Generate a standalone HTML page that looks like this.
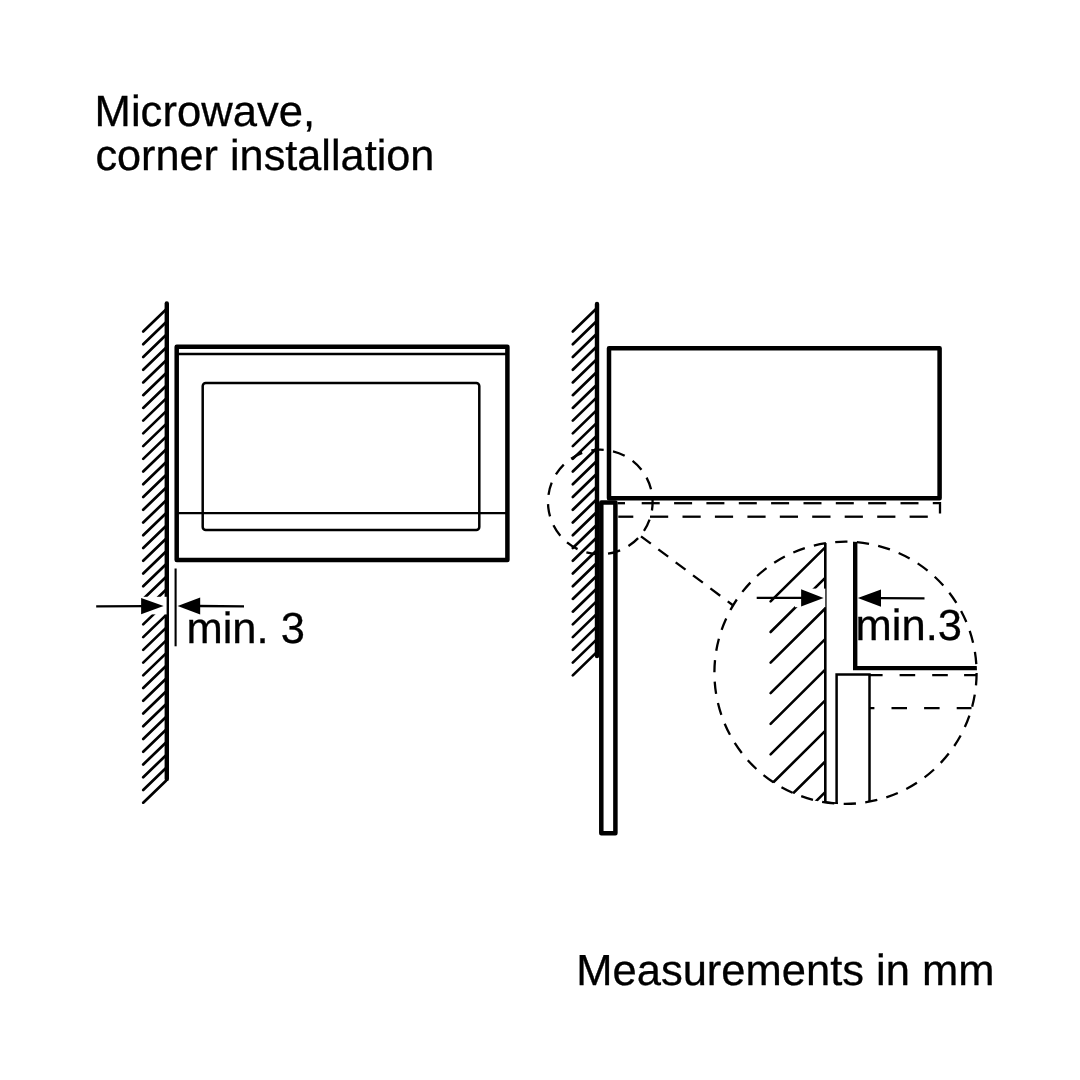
<!DOCTYPE html>
<html><head><meta charset="utf-8"><title>Microwave, corner installation</title>
<style>
html,body{margin:0;padding:0;background:#fff;}
body{width:1080px;height:1080px;overflow:hidden;}
svg{display:block;filter:grayscale(1);}
svg text{font-family:"Liberation Sans",sans-serif;fill:#000;stroke:#000;stroke-width:0.3px;text-rendering:geometricPrecision;}
</style></head>
<body>
<svg width="1080" height="1080" viewBox="0 0 1080 1080">
<rect width="1080" height="1080" fill="#fff"/>
<!-- left wall -->
<g stroke="#000" stroke-width="2.7" stroke-linecap="round"><line x1="143.20" y1="331.50" x2="166.00" y2="309.50"/><line x1="143.20" y1="344.24" x2="166.00" y2="322.24"/><line x1="143.20" y1="356.97" x2="166.00" y2="334.97"/><line x1="143.20" y1="369.70" x2="166.00" y2="347.70"/><line x1="143.20" y1="382.44" x2="166.00" y2="360.44"/><line x1="143.20" y1="395.18" x2="166.00" y2="373.18"/><line x1="143.20" y1="407.91" x2="166.00" y2="385.91"/><line x1="143.20" y1="420.64" x2="166.00" y2="398.64"/><line x1="143.20" y1="433.38" x2="166.00" y2="411.38"/><line x1="143.20" y1="446.12" x2="166.00" y2="424.12"/><line x1="143.20" y1="458.85" x2="166.00" y2="436.85"/><line x1="143.20" y1="471.58" x2="166.00" y2="449.58"/><line x1="143.20" y1="484.32" x2="166.00" y2="462.32"/><line x1="143.20" y1="497.06" x2="166.00" y2="475.06"/><line x1="143.20" y1="509.79" x2="166.00" y2="487.79"/><line x1="143.20" y1="522.52" x2="166.00" y2="500.52"/><line x1="143.20" y1="535.26" x2="166.00" y2="513.26"/><line x1="143.20" y1="548.00" x2="166.00" y2="526.00"/><line x1="143.20" y1="560.73" x2="166.00" y2="538.73"/><line x1="143.20" y1="573.46" x2="166.00" y2="551.46"/><line x1="143.20" y1="586.20" x2="166.00" y2="564.20"/><line x1="143.20" y1="598.93" x2="166.00" y2="576.93"/><line x1="143.20" y1="611.67" x2="166.00" y2="589.67"/><line x1="143.20" y1="624.40" x2="166.00" y2="602.40"/><line x1="143.20" y1="637.14" x2="166.00" y2="615.14"/><line x1="143.20" y1="649.88" x2="166.00" y2="627.88"/><line x1="143.20" y1="662.61" x2="166.00" y2="640.61"/><line x1="143.20" y1="675.35" x2="166.00" y2="653.35"/><line x1="143.20" y1="688.08" x2="166.00" y2="666.08"/><line x1="143.20" y1="700.82" x2="166.00" y2="678.82"/><line x1="143.20" y1="713.55" x2="166.00" y2="691.55"/><line x1="143.20" y1="726.28" x2="166.00" y2="704.28"/><line x1="143.20" y1="739.02" x2="166.00" y2="717.02"/><line x1="143.20" y1="751.75" x2="166.00" y2="729.75"/><line x1="143.20" y1="764.49" x2="166.00" y2="742.49"/><line x1="143.20" y1="777.22" x2="166.00" y2="755.22"/><line x1="143.20" y1="789.96" x2="166.00" y2="767.96"/><line x1="143.20" y1="802.69" x2="166.00" y2="780.69"/></g>
<line x1="166.8" y1="303.5" x2="166.8" y2="779" stroke="#000" stroke-width="4.4" stroke-linecap="round"/>
<!-- microwave front -->
<rect x="176.7" y="346.7" width="330.7" height="213.3" fill="none" stroke="#000" stroke-width="4.5" stroke-linejoin="round"/>
<line x1="177" y1="354" x2="507" y2="354" stroke="#000" stroke-width="2.3"/>
<line x1="177" y1="513.2" x2="507" y2="513.2" stroke="#000" stroke-width="2.3"/>
<rect x="202.7" y="383" width="276.6" height="147" rx="3" fill="none" stroke="#000" stroke-width="2.5"/>
<!-- dimension -->
<line x1="175.6" y1="568.5" x2="175.6" y2="646.3" stroke="#000" stroke-width="2.1"/>
<rect x="140.6" y="596.8" width="26" height="17.6" fill="#fff"/>
<line x1="96.2" y1="606.4" x2="145" y2="606.1" stroke="#000" stroke-width="2.3"/>
<polygon points="163.6,606.1 141.1,597.9 141.1,614.3" fill="#000"/>
<line x1="198" y1="606" x2="244" y2="606.3" stroke="#000" stroke-width="2.3"/>
<polygon points="177.6,605.9 200.2,597.4 200.2,614.4" fill="#000"/>
<text x="186.4" y="643" font-size="43.5">min. 3</text>
<!-- right wall -->
<g stroke="#000" stroke-width="2.7" stroke-linecap="round"><line x1="572.80" y1="331.50" x2="596.00" y2="309.00"/><line x1="572.80" y1="344.24" x2="596.00" y2="321.74"/><line x1="572.80" y1="356.97" x2="596.00" y2="334.47"/><line x1="572.80" y1="369.70" x2="596.00" y2="347.20"/><line x1="572.80" y1="382.44" x2="596.00" y2="359.94"/><line x1="572.80" y1="395.18" x2="596.00" y2="372.68"/><line x1="572.80" y1="407.91" x2="596.00" y2="385.41"/><line x1="572.80" y1="420.64" x2="596.00" y2="398.14"/><line x1="572.80" y1="433.38" x2="596.00" y2="410.88"/><line x1="572.80" y1="446.12" x2="596.00" y2="423.62"/><line x1="572.80" y1="458.85" x2="596.00" y2="436.35"/><line x1="572.80" y1="471.58" x2="596.00" y2="449.08"/><line x1="572.80" y1="484.32" x2="596.00" y2="461.82"/><line x1="572.80" y1="497.06" x2="596.00" y2="474.56"/><line x1="572.80" y1="509.79" x2="596.00" y2="487.29"/><line x1="572.80" y1="522.52" x2="596.00" y2="500.02"/><line x1="572.80" y1="535.26" x2="596.00" y2="512.76"/><line x1="572.80" y1="548.00" x2="596.00" y2="525.50"/><line x1="572.80" y1="560.73" x2="596.00" y2="538.23"/><line x1="572.80" y1="573.46" x2="596.00" y2="550.96"/><line x1="572.80" y1="586.20" x2="596.00" y2="563.70"/><line x1="572.80" y1="598.93" x2="596.00" y2="576.43"/><line x1="572.80" y1="611.67" x2="596.00" y2="589.17"/><line x1="572.80" y1="624.40" x2="596.00" y2="601.90"/><line x1="572.80" y1="637.14" x2="596.00" y2="614.64"/><line x1="572.80" y1="649.88" x2="596.00" y2="627.38"/><line x1="572.80" y1="662.61" x2="596.00" y2="640.11"/><line x1="572.80" y1="675.35" x2="596.00" y2="652.85"/></g>
<line x1="597" y1="304" x2="597" y2="656" stroke="#000" stroke-width="4.4" stroke-linecap="round"/>
<!-- appliance side -->
<rect x="609" y="348.3" width="330.6" height="149.9" fill="none" stroke="#000" stroke-width="4.5" stroke-linejoin="round"/>
<!-- door panel -->
<rect x="601.3" y="502.6" width="14.1" height="330.7" fill="none" stroke="#000" stroke-width="4.5" stroke-linejoin="round"/>
<line x1="641.7" y1="503.2" x2="659.7" y2="503.2" stroke="#000" stroke-width="2.3"/><line x1="674.1" y1="503.2" x2="692.1" y2="503.2" stroke="#000" stroke-width="2.3"/><line x1="706.4" y1="503.2" x2="724.4" y2="503.2" stroke="#000" stroke-width="2.3"/><line x1="738.8" y1="503.2" x2="756.8" y2="503.2" stroke="#000" stroke-width="2.3"/><line x1="771.1" y1="503.2" x2="789.1" y2="503.2" stroke="#000" stroke-width="2.3"/><line x1="803.5" y1="503.2" x2="821.5" y2="503.2" stroke="#000" stroke-width="2.3"/><line x1="835.8" y1="503.2" x2="853.8" y2="503.2" stroke="#000" stroke-width="2.3"/><line x1="868.2" y1="503.2" x2="886.2" y2="503.2" stroke="#000" stroke-width="2.3"/><line x1="900.5" y1="503.2" x2="918.5" y2="503.2" stroke="#000" stroke-width="2.3"/>
<polyline points="932.8,503.2 940,503.2 940,513.6" fill="none" stroke="#000" stroke-width="2.3"/>
<line x1="617.5" y1="503.2" x2="625.0" y2="503.2" stroke="#000" stroke-width="2.3"/>
<line x1="618.3" y1="516.7" x2="633.3" y2="516.7" stroke="#000" stroke-width="2.3"/><line x1="650.0" y1="516.7" x2="668.2" y2="516.7" stroke="#000" stroke-width="2.3"/><line x1="682.5" y1="516.7" x2="700.7" y2="516.7" stroke="#000" stroke-width="2.3"/><line x1="714.9" y1="516.7" x2="733.1" y2="516.7" stroke="#000" stroke-width="2.3"/><line x1="747.4" y1="516.7" x2="765.6" y2="516.7" stroke="#000" stroke-width="2.3"/><line x1="779.8" y1="516.7" x2="798.0" y2="516.7" stroke="#000" stroke-width="2.3"/><line x1="812.2" y1="516.7" x2="830.5" y2="516.7" stroke="#000" stroke-width="2.3"/><line x1="844.7" y1="516.7" x2="862.9" y2="516.7" stroke="#000" stroke-width="2.3"/><line x1="877.2" y1="516.7" x2="895.4" y2="516.7" stroke="#000" stroke-width="2.3"/><line x1="909.6" y1="516.7" x2="927.8" y2="516.7" stroke="#000" stroke-width="2.3"/>
<circle cx="600.3" cy="502" r="52.3" fill="none" stroke="#000" stroke-width="2.3" stroke-dasharray="12.5 9.41" stroke-dashoffset="4"/>
<line x1="641" y1="536.3" x2="732.6" y2="605" stroke="#000" stroke-width="2.3" stroke-dasharray="12.3 9.38"/>
<circle cx="845.5" cy="672.8" r="131.1" fill="none" stroke="#000" stroke-width="2.3" stroke-dasharray="12.3 9.376" stroke-dashoffset="-0.3"/>
<clipPath id="bc"><circle cx="845.5" cy="672.8" r="131.6"/></clipPath>
<g clip-path="url(#bc)"><line x1="824.7" y1="547.80" x2="770.6" y2="601.40" stroke="#000" stroke-width="2.6" stroke-linecap="round"/><line x1="824.7" y1="578.40" x2="770.6" y2="632.00" stroke="#000" stroke-width="2.6" stroke-linecap="round"/><line x1="824.7" y1="609.00" x2="770.6" y2="662.60" stroke="#000" stroke-width="2.6" stroke-linecap="round"/><line x1="824.7" y1="639.60" x2="770.6" y2="693.20" stroke="#000" stroke-width="2.6" stroke-linecap="round"/><line x1="824.7" y1="670.20" x2="770.6" y2="723.80" stroke="#000" stroke-width="2.6" stroke-linecap="round"/><line x1="824.7" y1="700.80" x2="770.6" y2="754.40" stroke="#000" stroke-width="2.6" stroke-linecap="round"/><line x1="824.7" y1="731.40" x2="770.6" y2="785.00" stroke="#000" stroke-width="2.6" stroke-linecap="round"/><line x1="824.7" y1="762.00" x2="770.6" y2="815.60" stroke="#000" stroke-width="2.6" stroke-linecap="round"/><line x1="824.7" y1="792.60" x2="770.6" y2="846.20" stroke="#000" stroke-width="2.6" stroke-linecap="round"/><line x1="825.3" y1="543" x2="825.3" y2="806" stroke="#000" stroke-width="2.6"/><polyline points="855.2,540 855.2,668.1 977.4,668.1" fill="none" stroke="#000" stroke-width="4.4" stroke-linecap="round"/><polyline points="836.6,806 836.6,674.6 869.5,674.6 869.5,801" fill="none" stroke="#000" stroke-width="2.5"/><line x1="869.9" y1="675.1" x2="882.6" y2="675.1" stroke="#000" stroke-width="2.3"/><line x1="899.6" y1="675.1" x2="915.2" y2="675.1" stroke="#000" stroke-width="2.3"/><line x1="932.2" y1="675.1" x2="947.8" y2="675.1" stroke="#000" stroke-width="2.3"/><line x1="964.1" y1="675.1" x2="977.0" y2="675.1" stroke="#000" stroke-width="2.3"/><line x1="870.0" y1="708.1" x2="874.4" y2="708.1" stroke="#000" stroke-width="2.3"/><line x1="891.5" y1="708.1" x2="907.0" y2="708.1" stroke="#000" stroke-width="2.3"/><line x1="924.1" y1="708.1" x2="939.6" y2="708.1" stroke="#000" stroke-width="2.3"/><line x1="956.7" y1="708.1" x2="971.5" y2="708.1" stroke="#000" stroke-width="2.3"/><path d="M823.9,801.9 A131.1,131.1 0 0 0 837.9,803.7" fill="none" stroke="#000" stroke-width="2.3"/></g>
<rect x="795" y="588.6" width="30.3" height="18.6" fill="#fff"/>
<line x1="756.7" y1="597.9" x2="803" y2="597.9" stroke="#000" stroke-width="2.2"/>
<polygon points="823.6,597.9 801.1,589.2 801.1,606.6" fill="#000"/>
<line x1="879" y1="598.1" x2="924.5" y2="598.4" stroke="#000" stroke-width="2.2"/>
<polygon points="857.8,598 881,589.4 881,606.8" fill="#000"/>
<text x="855.6" y="639.5" font-size="43.5">min.3</text>
<text x="94.6" y="126.4" font-size="43.6">Microwave,</text>
<text x="95.4" y="169.7" font-size="43.25">corner installation</text>
<text x="576.3" y="984.8" font-size="43.5">Measurements in mm</text>
</svg>
</body></html>
